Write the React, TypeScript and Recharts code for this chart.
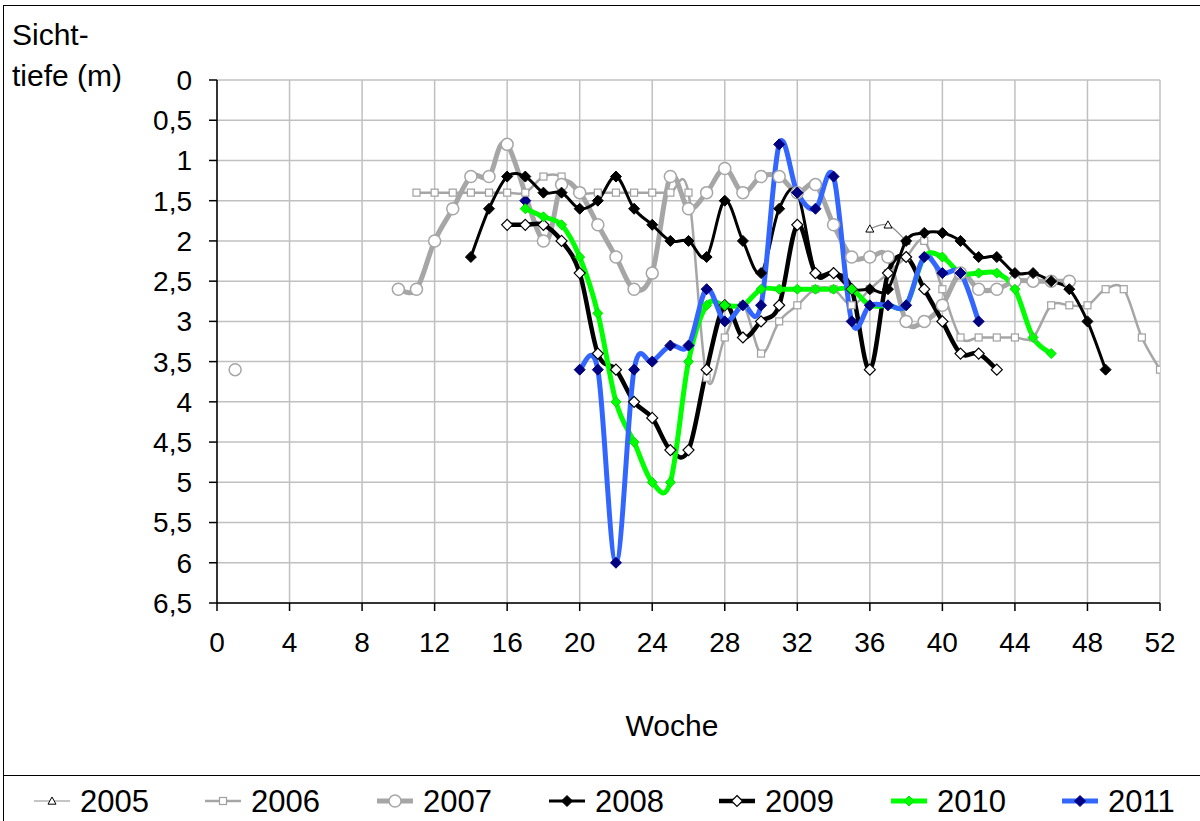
import React from 'react';
import { LineChart, Line, XAxis, YAxis, CartesianGrid } from 'recharts';

const xTicks = [0, 4, 8, 12, 16, 20, 24, 28, 32, 36, 40, 44, 48, 52];
const yTicks = [0, 0.5, 1, 1.5, 2, 2.5, 3, 3.5, 4, 4.5, 5, 5.5, 6, 6.5];

const weeks2005 = [36, 37, 38];
const depth2005 = [1.85, 1.8, 2.0];

const weeks2006 = [11, 12, 13, 14, 15, 16, 17, 18, 19, 20, 21, 22, 23, 24, 25, 26, 27, 28, 29, 30, 31, 32, 33, 34, 35, 36, 37, 38, 39, 40, 41, 42, 43, 44, 45, 46, 47, 48, 49, 50, 51, 52];
const depth2006 = [1.4, 1.4, 1.4, 1.4, 1.4, 1.4, 1.4, 1.2, 1.2, 1.4, 1.4, 1.4, 1.4, 1.4, 1.4, 1.4, 3.7, 3.2, 2.8, 3.4, 3.0, 2.8, 2.6, 2.6, 2.8, 2.6, 2.4, 2.2, 2.0, 2.6, 3.2, 3.2, 3.2, 3.2, 3.2, 2.8, 2.8, 2.8, 2.6, 2.6, 3.2, 3.6];

// week 1 stands alone, the rest is one line
const weeks2007 = [1, 10, 11, 12, 13, 14, 15, 16, 18, 19, 20, 21, 22, 23, 24, 25, 26, 27, 28, 29, 30, 31, 32, 33, 34, 35, 36, 37, 38, 39, 40, 41, 42, 43, 44, 45, 46, 47];
const depth2007 = [3.6, 2.6, 2.6, 2.0, 1.6, 1.2, 1.2, 0.8, 2.0, 1.3, 1.4, 1.8, 2.2, 2.6, 2.4, 1.2, 1.6, 1.4, 1.1, 1.4, 1.2, 1.2, 1.4, 1.3, 1.8, 2.2, 2.2, 2.2, 3.0, 3.0, 2.8, 2.4, 2.6, 2.6, 2.5, 2.5, 2.5, 2.5];

const weeks2008 = [14, 15, 16, 17, 18, 19, 20, 21, 22, 23, 24, 25, 26, 27, 28, 29, 30, 31, 32, 33, 34, 35, 36, 37, 38, 39, 40, 41, 42, 43, 44, 45, 46, 47, 48, 49];
const depth2008 = [2.2, 1.6, 1.2, 1.2, 1.4, 1.4, 1.6, 1.5, 1.2, 1.6, 1.8, 2.0, 2.0, 2.2, 1.5, 2.0, 2.4, 1.6, 1.4, 2.4, 2.4, 2.6, 2.6, 2.6, 2.0, 1.9, 1.9, 2.0, 2.2, 2.2, 2.4, 2.4, 2.5, 2.6, 3.0, 3.6];

const weeks2009 = [16, 17, 18, 19, 20, 21, 22, 23, 24, 25, 26, 27, 28, 29, 30, 31, 32, 33, 34, 35, 36, 37, 38, 39, 40, 41, 42, 43];
const depth2009 = [1.8, 1.8, 1.8, 2.0, 2.4, 3.4, 3.6, 4.0, 4.2, 4.6, 4.6, 3.6, 2.8, 3.2, 3.0, 2.8, 1.8, 2.4, 2.4, 2.6, 3.6, 2.4, 2.2, 2.6, 3.0, 3.4, 3.4, 3.6];

const weeks2010 = [17, 18, 19, 20, 21, 22, 23, 24, 25, 26, 27, 28, 29, 30, 31, 32, 33, 34, 35, 36, 37, 38, 39, 40, 41, 42, 43, 44, 45, 46];
const depth2010 = [1.6, 1.7, 1.8, 2.2, 2.9, 4.0, 4.5, 5.0, 5.0, 3.5, 2.8, 2.8, 2.8, 2.6, 2.6, 2.6, 2.6, 2.6, 2.6, 2.8, 2.8, 2.8, 2.2, 2.2, 2.4, 2.4, 2.4, 2.6, 3.2, 3.4];

// week 17 stands alone, the rest is one line
const weeks2011 = [17, 20, 21, 22, 23, 24, 25, 26, 27, 28, 29, 30, 31, 32, 33, 34, 35, 36, 37, 38, 39, 40, 41, 42];
const depth2011 = [1.5, 3.6, 3.6, 6.0, 3.6, 3.5, 3.3, 3.3, 2.6, 3.0, 2.8, 2.8, 0.8, 1.4, 1.6, 1.2, 3.0, 2.8, 2.8, 2.8, 2.2, 2.4, 2.4, 3.0];

const pts = (w: number[], d: number[]) => w.map((week, i) => ({ week, depth: d[i] }));

// Excel-like smoothed line (Catmull-Rom as cubic bezier)
const excelSmooth: any = (context: any) => {
  let p: number[][] = [];
  return {
    areaStart() {},
    areaEnd() {},
    lineStart() { p = []; },
    point(x: number, y: number) { p.push([+x, +y]); },
    lineEnd() {
      const n = p.length;
      if (!n) return;
      context.moveTo(p[0][0], p[0][1]);
      if (n === 1) { context.lineTo(p[0][0], p[0][1]); return; }
      for (let i = 0; i < n - 1; i++) {
        const p0 = p[i === 0 ? 0 : i - 1];
        const p1 = p[i];
        const p2 = p[i + 1];
        const p3 = p[i + 2 < n ? i + 2 : n - 1];
        context.bezierCurveTo(
          p1[0] + (p2[0] - p0[0]) / 6, p1[1] + (p2[1] - p0[1]) / 6,
          p2[0] - (p3[0] - p1[0]) / 6, p2[1] - (p3[1] - p1[1]) / 6,
          p2[0], p2[1]
        );
      }
    },
  };
};

type Mk = { shape: string; s: number; fill: string; stroke: string; sw: number };

const markerPath = (m: Mk, cx: number, cy: number, key?: string) => {
  const { shape, s, fill, stroke, sw } = m;
  if (shape === 'circle') return <circle key={key} cx={cx} cy={cy} r={s} fill={fill} stroke={stroke} strokeWidth={sw} />;
  if (shape === 'square') return <rect key={key} x={cx - s} y={cy - s} width={2 * s} height={2 * s} fill={fill} stroke={stroke} strokeWidth={sw} />;
  if (shape === 'triangle') return <path key={key} d={`M${cx},${cy - s}L${cx + s},${cy + s * 0.8}L${cx - s},${cy + s * 0.8}Z`} fill={fill} stroke={stroke} strokeWidth={sw} />;
  return <path key={key} d={`M${cx},${cy - s}L${cx + s},${cy}L${cx},${cy + s}L${cx - s},${cy}Z`} fill={fill} stroke={stroke} strokeWidth={sw} />;
};

const dotFn = (m: Mk) => (props: any) => {
  const { cx, cy, index } = props;
  if (cx == null || cy == null) return <g key={`e${index}`} />;
  return markerPath(m, cx, cy, `d${index}`);
};

const series = [
  { name: '2005', data: pts(weeks2005, depth2005), color: '#8c8c8c', width: 1.2, mk: { shape: 'triangle', s: 4, fill: '#fff', stroke: '#000', sw: 1 } },
  { name: '2006', data: pts(weeks2006, depth2006), color: '#a6a6a6', width: 2.5, mk: { shape: 'square', s: 3.5, fill: '#fff', stroke: '#a0a0a0', sw: 1.2 } },
  { name: '2007', data: pts(weeks2007, depth2007).slice(1), color: '#a6a6a6', width: 5, mk: { shape: 'circle', s: 6, fill: '#fff', stroke: '#a6a6a6', sw: 1.5 } },
  { name: '2008', data: pts(weeks2008, depth2008), color: '#000', width: 3, mk: { shape: 'diamond', s: 5.5, fill: '#000', stroke: '#000', sw: 1 } },
  { name: '2009', data: pts(weeks2009, depth2009), color: '#000', width: 4.5, mk: { shape: 'diamond', s: 5.5, fill: '#fff', stroke: '#000', sw: 1.2 } },
  { name: '2010', data: pts(weeks2010, depth2010), color: '#00ff00', width: 5, mk: { shape: 'diamond', s: 5, fill: '#00ff00', stroke: '#00dd00', sw: 1 } },
  { name: '2011', data: pts(weeks2011, depth2011).slice(1), color: '#3366ff', width: 5, mk: { shape: 'diamond', s: 5.5, fill: '#000080', stroke: '#000080', sw: 1 } },
];

const lone = [
  { name: '2007a', data: pts(weeks2007, depth2007).slice(0, 1), mk: series[2].mk as Mk },
  { name: '2011a', data: pts(weeks2011, depth2011).slice(0, 1), mk: series[6].mk as Mk },
];

const legendX = [34, 205, 377, 549, 719, 891, 1062];
const FONT = '"Liberation Sans", Arial, sans-serif';
const fmt = (v: number) => String(v).replace('.', ',');

export default function App() {
  return (
    <div style={{ position: 'absolute', left: 0, top: 0, width: 1200, height: 821, overflow: 'hidden', background: '#fff', fontFamily: FONT }}>
      <div style={{ position: 'absolute', left: 3, top: 5, width: 1300, height: 771, border: '1px solid #000', boxSizing: 'border-box' }} />
      <div style={{ position: 'absolute', left: 3, top: 775, width: 1300, height: 100, border: '1px solid #000', boxSizing: 'border-box' }} />
      <div style={{ position: 'absolute', left: 0, top: 0 }}>
        <LineChart width={1200} height={775} margin={{ top: 80, right: 40, left: 157, bottom: 132 }}>
          <CartesianGrid stroke="#c0c0c0" strokeWidth={1.5} horizontalValues={yTicks} verticalValues={xTicks} />
          <XAxis
            dataKey="week"
            type="number"
            domain={[0, 52]}
            ticks={xTicks}
            height={40}
            allowDataOverflow
            tick={{ fontSize: 28, fill: '#000', fontFamily: FONT }}
            tickSize={8}
            tickMargin={21}
            axisLine={{ stroke: '#000', strokeWidth: 1.5 }}
            tickLine={{ stroke: '#000', strokeWidth: 1.5 }}
          />
          <YAxis
            type="number"
            dataKey="depth"
            reversed
            domain={[0, 6.5]}
            ticks={yTicks}
            width={60}
            allowDataOverflow
            tickFormatter={fmt}
            tick={{ fontSize: 28, fill: '#000', fontFamily: FONT }}
            tickSize={8}
            tickMargin={17}
            axisLine={{ stroke: '#000', strokeWidth: 1.5 }}
            tickLine={{ stroke: '#000', strokeWidth: 1.5 }}
          />
          {lone.map((s) => (
            <Line key={s.name} data={s.data} dataKey="depth" stroke="none" dot={dotFn(s.mk)} activeDot={false} legendType="none" isAnimationActive={false} />
          ))}
          {series.map((s) => (
            <Line
              key={s.name}
              name={s.name}
              data={s.data}
              dataKey="depth"
              type={excelSmooth}
              stroke={s.color}
              strokeWidth={s.width}
              dot={dotFn(s.mk as Mk)}
              activeDot={false}
              isAnimationActive={false}
            />
          ))}
        </LineChart>
      </div>
      <svg width={1200} height={821} style={{ position: 'absolute', left: 0, top: 0, pointerEvents: 'none' }} fontFamily={FONT}>
        <text x={12} y={45} fontSize={30} fill="#000">Sicht-</text>
        <text x={12} y={86} fontSize={30} fill="#000">tiefe (m)</text>
        <text x={672} y={736} fontSize={30} fill="#000" textAnchor="middle">Woche</text>
        {series.map((s, i) => {
          const x0 = legendX[i];
          const y = 801;
          return (
            <g key={s.name}>
              <line x1={x0} x2={x0 + 36} y1={y} y2={y} stroke={s.color} strokeWidth={s.width} />
              {markerPath(s.mk as Mk, x0 + 18, y)}
              <text x={x0 + 46} y={y + 11} fontSize={31} fill="#000">{s.name}</text>
            </g>
          );
        })}
      </svg>
    </div>
  );
}
